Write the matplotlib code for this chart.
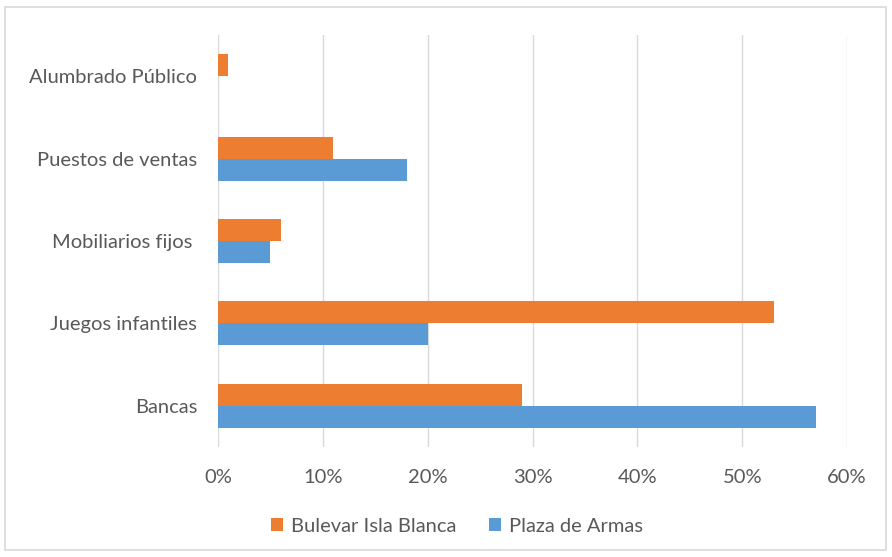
import numpy as np
import matplotlib.pyplot as plt
from matplotlib.patches import Rectangle

# data (bottom to top)
categories = ['Bancas', 'Juegos infantiles', 'Mobiliarios fijos ', 'Puestos de ventas', 'Alumbrado Público']
bulevar = [29, 53, 6, 11, 1]
plaza = [57, 20, 5, 18, 0]
series_names = ['Bulevar Isla Blanca', 'Plaza de Armas']
x_ticks = [0, 10, 20, 30, 40, 50, 60]

plt.rcParams['font.family'] = ['Lato', 'DejaVu Sans']

fig = plt.figure(figsize=(8.92, 5.57), dpi=100)
ax = fig.add_axes([0.2444, 0.1975, 0.7052, 0.7397])

y = np.arange(len(categories))
h = 0.267
ax.barh(y + h / 2, bulevar, height=h, color='#ED7D31', label=series_names[0], zorder=3)
ax.barh(y - h / 2, plaza, height=h, color='#5B9BD5', label=series_names[1], zorder=3)

ax.set_xlim(0, 60)
ax.set_ylim(-0.5, len(categories) - 0.5)
ax.set_xticks(x_ticks)
ax.set_xticklabels([f'{t}%' for t in x_ticks])
ax.set_yticks(y)
ax.set_yticklabels(categories)
ax.tick_params(axis='both', length=0, labelsize=14.5, colors='#595959')
ax.tick_params(axis='x', pad=16)
ax.tick_params(axis='y', pad=15)
ax.grid(axis='x', color='#D9D9D9', linewidth=1, zorder=0)
for s in ax.spines.values():
    s.set_visible(False)

handles, labels = ax.get_legend_handles_labels()
fig.legend(handles, labels, loc='center', bbox_to_anchor=(0.512, 0.055), ncol=2,
           frameon=False, fontsize=14.5, labelcolor='#595959',
           handlelength=0.6, handleheight=0.6, handletextpad=0.4, columnspacing=1.6)

fig.patches.append(Rectangle((0.006, 0.012), 0.987, 0.975, transform=fig.transFigure,
                             fill=False, edgecolor='#D9D9D9', linewidth=1.2))

fig.savefig('out.png', dpi=100)
